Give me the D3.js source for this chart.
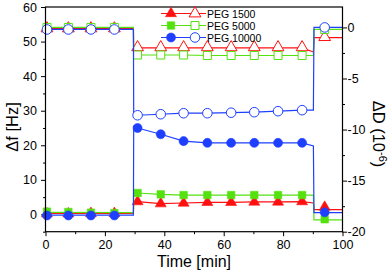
<!DOCTYPE html>
<html>
<head>
<meta charset="utf-8">
<script src="https://cdn.jsdelivr.net/npm/d3@7"></script>
<style>
  body { margin: 0; background: #fff; }
  svg { display: block; font-family: "Liberation Sans", Arial, sans-serif; }
</style>
</head>
<body>
<div id="chart"></div>
<script>
// marker times (min) and values
const markTime = [0.5, 7.7, 15.3, 23.2, 31, 38.8, 46.5, 54.5, 62.5, 70.3, 78.3, 86.4, 94];
// delta f, Hz (left axis, filled symbols)
const fRed   = [0.2, 0.2, 0.3, 0.3, 3.7, 3.1, 3.3, 3.5, 3.5, 3.6, 3.6, 3.7, 2.1];
const fGreen = [0.8, 0.7, 0.5, 0.4, 6.2, 5.8, 5.6, 5.6, 5.6, 5.6, 5.6, 5.6, -1.4];
const fBlue  = [-0.3, -0.3, -0.3, -0.3, 25.0, 23.2, 21.2, 20.7, 20.7, 20.7, 20.7, 20.7, 0.6];
// delta D, 1e-6 (right axis, open symbols)
const dRed   = [-0.1, -0.1, -0.1, -0.1, -1.95, -1.95, -1.95, -1.95, -1.95, -1.95, -1.95, -1.95, -0.95];
const dGreen = [0.0, 0.0, 0.0, 0.0, -2.7, -2.7, -2.7, -2.75, -2.75, -2.75, -2.75, -2.75, -0.2];
const dBlue  = [-0.2, -0.2, -0.2, -0.2, -8.6, -8.5, -8.4, -8.4, -8.35, -8.3, -8.2, -8.1, 0.0];

// the continuous traces behind the symbols
const lineTime = [0, 29.6, 29.7, 31, 38.8, 46.5, 54.5, 62.5, 70.3, 78.3, 86.4, 90.2, 90.4, 100];
const lfRed   = [0.3, 0.3, 3.6, 3.7, 3.1, 3.3, 3.5, 3.5, 3.6, 3.6, 3.7, 3.3, 1.4, 1.4];
const lfGreen = [0.6, 0.5, 6.0, 6.2, 5.8, 5.6, 5.6, 5.6, 5.6, 5.6, 5.6, 5.6, -1.6, -1.6];
const lfBlue  = [-0.2, -0.2, 25.5, 25.0, 23.2, 21.2, 20.7, 20.7, 20.7, 20.7, 20.7, 19.8, 0.5, 0.5];
const ldRed   = [-0.1, -0.1, -2.5, -2.0, -2.0, -2.0, -2.0, -2.0, -2.0, -2.0, -2.0, -2.4, -1.0, -1.0];
const ldGreen = [0.0, 0.0, -2.7, -2.7, -2.7, -2.7, -2.75, -2.75, -2.75, -2.75, -2.75, -2.75, -0.2, -0.2];
const ldBlue  = [-0.2, -0.2, -8.7, -8.6, -8.5, -8.4, -8.4, -8.35, -8.3, -8.2, -8.1, -8.1, 0.0, 0.0];

const names = ["PEG 1500", "PEG 5000", "PEG 10000"];
const colors = ["#ff1010", "#55e010", "#1f3fff"];
const shapes = [d3.symbolTriangle, d3.symbolSquare, d3.symbolCircle];
const sizes = [52, 56, 64];

const xTicks = [0, 20, 40, 60, 80, 100];
const yTicks = [0, 10, 20, 30, 40, 50, 60];
const y2Ticks = [0, -5, -10, -15, -20];

const W = 392, H = 273;
const m = {l: 45.5, r: 342.5, t: 7, b: 231.7};

const svg = d3.select("#chart").append("svg").attr("width", W).attr("height", H);

const x = d3.scaleLinear().domain([0, 100]).range([m.l, m.r]);
const y = d3.scaleLinear().domain([-5, 60]).range([m.b, m.t]);
const y2 = d3.scaleLinear().domain([-20, 2]).range([m.b, m.t]);

// axes
const tickFont = "12.5px";
const gx = svg.append("g").attr("transform", `translate(0,${m.b})`)
  .call(d3.axisBottom(x).tickValues(xTicks).tickSize(4.5).tickPadding(4).tickSizeOuter(0));
const gxm = svg.append("g").attr("transform", `translate(0,${m.b})`)
  .call(d3.axisBottom(x).tickValues([10, 30, 50, 70, 90]).tickSize(2.5).tickFormat("").tickSizeOuter(0));
const gy = svg.append("g").attr("transform", `translate(${m.l},0)`)
  .call(d3.axisLeft(y).tickValues(yTicks).tickSize(4.5).tickPadding(4).tickSizeOuter(0));
const gym = svg.append("g").attr("transform", `translate(${m.l},0)`)
  .call(d3.axisLeft(y).tickValues([-5, 5, 15, 25, 35, 45, 55]).tickSize(2.5).tickFormat("").tickSizeOuter(0));
const gy2 = svg.append("g").attr("transform", `translate(${m.r},0)`)
  .call(d3.axisRight(y2).tickValues(y2Ticks).tickSize(4.5).tickPadding(0.5).tickSizeOuter(0)
    .tickFormat(d => d < 0 ? "-" + Math.abs(d) : d));
const gy2m = svg.append("g").attr("transform", `translate(${m.r},0)`)
  .call(d3.axisRight(y2).tickValues([-2.5, -7.5, -12.5, -17.5]).tickSize(2.5).tickFormat("").tickSizeOuter(0));

[gx, gxm, gy, gym, gy2, gy2m].forEach(g => {
  g.select(".domain").remove();
  g.selectAll("line").attr("stroke", "#000").attr("stroke-width", 1);
  g.selectAll("text").attr("font-size", tickFont).attr("fill", "#000")
    .attr("font-family", "'Liberation Sans', Arial, sans-serif");
});

// data traces
const fLines = [lfRed, lfGreen, lfBlue];
const dLines = [ldRed, ldGreen, ldBlue];
const fMarks = [fRed, fGreen, fBlue];
const dMarks = [dRed, dGreen, dBlue];

const plot = svg.append("g");
function trace(vals, sc, col) {
  const line = d3.line().x((d, i) => x(lineTime[i])).y(d => sc(d));
  plot.append("path").attr("d", line(vals)).attr("fill", "none")
    .attr("stroke", col).attr("stroke-width", 1.2);
}
function marks(vals, sc, i, open) {
  plot.append("g").selectAll("path").data(vals).join("path")
    .attr("transform", (d, k) => `translate(${x(markTime[k])},${sc(d)})`)
    .attr("d", d3.symbol().type(shapes[i]).size(open ? sizes[i] + 8 : sizes[i]))
    .attr("fill", open ? "#fff" : colors[i])
    .attr("stroke", colors[i]).attr("stroke-width", open ? 1 : 0.6);
}
for (let i = 0; i < 3; i++) {
  trace(fLines[i], y, colors[i]);
  marks(fMarks[i], y, i, false);
}
for (let i = 0; i < 3; i++) {
  trace(dLines[i], y2, colors[i]);
  marks(dMarks[i], y2, i, true);
}

// frame
svg.append("rect").attr("x", m.l).attr("y", m.t).attr("width", m.r - m.l).attr("height", m.b - m.t)
  .attr("fill", "none").attr("stroke", "#000").attr("stroke-width", 1.2);

// legend
const leg = svg.append("g");
names.forEach((n, i) => {
  const ly = 13.5 + i * 12;
  leg.append("line").attr("x1", 161).attr("x2", 206).attr("y1", ly).attr("y2", ly)
    .attr("stroke", colors[i]).attr("stroke-width", 1.2);
  leg.append("path").attr("transform", `translate(171,${ly})`)
    .attr("d", d3.symbol().type(shapes[i]).size(sizes[i]))
    .attr("fill", colors[i]).attr("stroke", colors[i]).attr("stroke-width", 0.6);
  leg.append("path").attr("transform", `translate(195,${ly})`)
    .attr("d", d3.symbol().type(shapes[i]).size(sizes[i] + 8))
    .attr("fill", "#fff").attr("stroke", colors[i]).attr("stroke-width", 1);
  leg.append("text").attr("x", 207).attr("y", ly + 4).attr("font-size", "10.5px").text(n);
});

// axis titles
svg.append("text").attr("x", 194).attr("y", 267).attr("text-anchor", "middle")
  .attr("font-size", "16px").text("Time [min]");
svg.append("text").attr("transform", "translate(18,127) rotate(-90)").attr("text-anchor", "middle")
  .attr("font-size", "16.5px").text("\u0394f [Hz]");
const rt = svg.append("text").attr("transform", "translate(373,134) rotate(90)")
  .attr("text-anchor", "middle").attr("font-size", "16.5px");
rt.append("tspan").text("\u0394D (10");
rt.append("tspan").attr("dy", -6).attr("font-size", "11px").text("-6");
rt.append("tspan").attr("dy", 6).text(")");
</script>
</body>
</html>
